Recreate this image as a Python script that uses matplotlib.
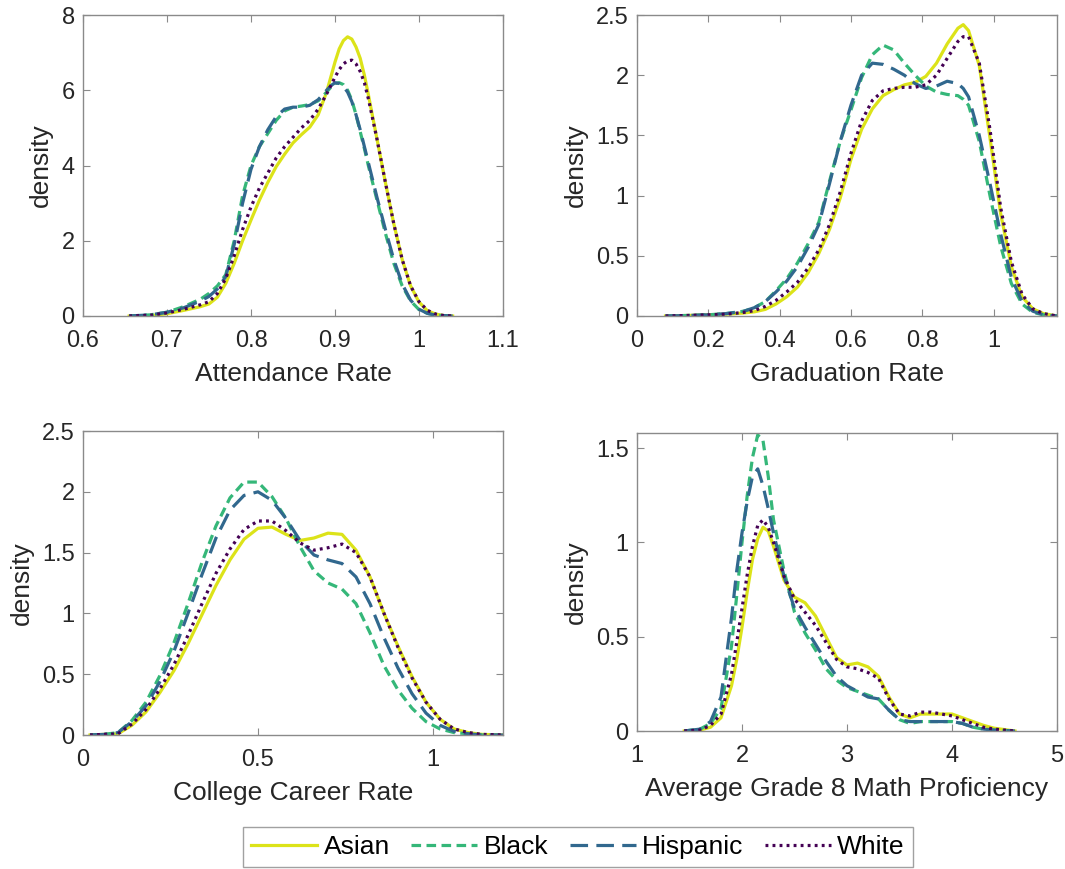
import matplotlib
matplotlib.use("Agg")
import matplotlib.pyplot as plt
from matplotlib.ticker import FuncFormatter

plt.rcParams['font.family'] = ['Liberation Sans', 'DejaVu Sans']

groups = ["Asian", "Black", "Hispanic", "White"]
colors = ["#DCE319", "#35B779", "#31688E", "#440154"]

# Attendance rate densities
att_x = [0.655, 0.68, 0.70, 0.72, 0.74, 0.75, 0.76, 0.77, 0.78, 0.79, 0.80, 0.81,
         0.82, 0.83, 0.84, 0.85, 0.86, 0.87, 0.88, 0.89, 0.895, 0.90, 0.905, 0.91,
         0.915, 0.92, 0.925, 0.93, 0.935, 0.94, 0.95, 0.96, 0.97, 0.98, 0.99,
         1.00, 1.01, 1.02, 1.03, 1.04]
att_asian = [0, 0.01, 0.06, 0.15, 0.25, 0.32, 0.5, 0.87, 1.4, 2.0, 2.55, 3.08,
             3.55, 3.97, 4.3, 4.6, 4.82, 5.02, 5.35, 5.95, 6.35, 6.75, 7.1, 7.32,
             7.42, 7.36, 7.15, 6.85, 6.4, 5.85, 4.7, 3.55, 2.45, 1.5, 0.8,
             0.37, 0.14, 0.05, 0.01, 0]
att_black = [0, 0.03, 0.1, 0.25, 0.45, 0.6, 0.8, 1.1, 2.0, 3.2, 4.0, 4.5,
             4.85, 5.2, 5.45, 5.55, 5.58, 5.62, 5.72, 5.95, 6.08, 6.18, 6.2, 6.15,
             6.0, 5.74, 5.35, 4.9, 4.45, 3.97, 3.08, 2.2, 1.4, 0.8, 0.4,
             0.17, 0.07, 0.02, 0.01, 0]
att_hispanic = [0, 0.03, 0.1, 0.22, 0.4, 0.52, 0.72, 1.05, 1.9, 3.0, 3.9, 4.5,
                4.95, 5.3, 5.5, 5.55, 5.55, 5.6, 5.75, 6.0, 6.12, 6.2, 6.18, 6.1,
                5.95, 5.7, 5.35, 4.95, 4.5, 4.05, 3.15, 2.3, 1.5, 0.85, 0.42,
                0.18, 0.07, 0.02, 0.01, 0]
att_white = [0, 0.02, 0.08, 0.18, 0.3, 0.38, 0.6, 1.0, 1.6, 2.3, 2.9, 3.4,
             3.8, 4.2, 4.5, 4.75, 5.0, 5.2, 5.5, 5.9, 6.12, 6.35, 6.55, 6.7,
             6.78, 6.8, 6.7, 6.5, 6.2, 5.75, 4.7, 3.55, 2.45, 1.5, 0.8,
             0.38, 0.15, 0.05, 0.01, 0]

# Graduation rate densities
grad_x = [0.08, 0.15, 0.2, 0.25, 0.3, 0.33, 0.36, 0.39, 0.42, 0.45, 0.48, 0.51,
          0.54, 0.57, 0.6, 0.63, 0.66, 0.69, 0.72, 0.75, 0.78, 0.81, 0.84, 0.87,
          0.9, 0.915, 0.93, 0.96, 0.99, 1.02, 1.05, 1.08, 1.11, 1.14, 1.178]
grad_asian = [0, 0.005, 0.01, 0.015, 0.025, 0.035, 0.055, 0.1, 0.16, 0.24, 0.36, 0.52,
              0.72, 0.98, 1.3, 1.55, 1.72, 1.83, 1.88, 1.92, 1.94, 1.99, 2.1, 2.26,
              2.39, 2.42, 2.37, 2.08, 1.48, 0.85, 0.41, 0.16, 0.06, 0.02, 0]
grad_black = [0, 0.005, 0.01, 0.02, 0.04, 0.07, 0.12, 0.21, 0.31, 0.44, 0.6, 0.78,
              1.12, 1.45, 1.71, 1.98, 2.17, 2.25, 2.21, 2.1, 2.0, 1.91, 1.86, 1.84,
              1.83, 1.8, 1.75, 1.45, 1.0, 0.58, 0.27, 0.1, 0.03, 0.01, 0]
grad_hispanic = [0, 0.005, 0.01, 0.02, 0.04, 0.07, 0.12, 0.2, 0.29, 0.41, 0.57, 0.76,
                 1.1, 1.45, 1.75, 2.0, 2.1, 2.09, 2.05, 2.0, 1.93, 1.89, 1.91, 1.95,
                 1.93, 1.89, 1.82, 1.5, 1.1, 0.68, 0.32, 0.12, 0.04, 0.01, 0]
grad_white = [0, 0.005, 0.01, 0.015, 0.03, 0.045, 0.08, 0.13, 0.2, 0.28, 0.4, 0.55,
              0.76, 1.03, 1.35, 1.62, 1.79, 1.87, 1.89, 1.9, 1.9, 1.92, 2.0, 2.14,
              2.28, 2.32, 2.32, 2.1, 1.55, 0.9, 0.45, 0.18, 0.06, 0.02, 0]

# College career rate densities
cc_x = [0.02, 0.06, 0.1, 0.14, 0.18, 0.22, 0.26, 0.3, 0.34, 0.38, 0.42, 0.46,
        0.5, 0.54, 0.58, 0.62, 0.66, 0.7, 0.74, 0.78, 0.82, 0.86, 0.9, 0.94,
        0.98, 1.02, 1.06, 1.1, 1.14, 1.2]
cc_asian = [0, 0.005, 0.01, 0.08, 0.19, 0.35, 0.53, 0.75, 0.99, 1.23, 1.44, 1.61,
            1.7, 1.71, 1.65, 1.6, 1.62, 1.66, 1.65, 1.52, 1.3, 1.0, 0.73, 0.48,
            0.27, 0.13, 0.05, 0.02, 0.005, 0]
cc_black = [0, 0.005, 0.02, 0.12, 0.27, 0.49, 0.76, 1.08, 1.42, 1.72, 1.95, 2.08,
            2.08, 1.96, 1.78, 1.55, 1.35, 1.25, 1.2, 1.08, 0.84, 0.57, 0.37, 0.22,
            0.11, 0.05, 0.02, 0.01, 0, 0]
cc_hispanic = [0, 0.005, 0.02, 0.11, 0.24, 0.44, 0.69, 1.0, 1.32, 1.62, 1.85, 1.97,
               2.0, 1.93, 1.78, 1.6, 1.48, 1.44, 1.41, 1.3, 1.08, 0.8, 0.55, 0.34,
               0.18, 0.08, 0.03, 0.01, 0, 0]
cc_white = [0, 0.005, 0.01, 0.09, 0.21, 0.38, 0.58, 0.82, 1.08, 1.33, 1.53, 1.69,
            1.76, 1.76, 1.68, 1.58, 1.52, 1.54, 1.57, 1.5, 1.3, 1.0, 0.72, 0.47,
            0.27, 0.13, 0.05, 0.02, 0.005, 0]

# Average grade 8 math proficiency densities
math_x = [1.45, 1.6, 1.7, 1.8, 1.9, 1.95, 2.0, 2.05, 2.1, 2.15, 2.2, 2.25,
          2.3, 2.4, 2.5, 2.6, 2.7, 2.8, 2.9, 3.0, 3.1, 3.2, 3.3, 3.4,
          3.5, 3.6, 3.7, 3.8, 3.9, 4.0, 4.1, 4.2, 4.3, 4.4, 4.6]
math_asian = [0, 0.005, 0.02, 0.07, 0.24, 0.38, 0.55, 0.74, 0.91, 1.02, 1.08, 1.06,
              0.98, 0.8, 0.71, 0.68, 0.61, 0.5, 0.39, 0.35, 0.36, 0.34, 0.29, 0.18,
              0.09, 0.07, 0.09, 0.09, 0.09, 0.09, 0.07, 0.05, 0.03, 0.015, 0]
math_black = [0, 0.01, 0.04, 0.12, 0.45, 0.72, 1.0, 1.25, 1.45, 1.57, 1.54, 1.35,
              1.12, 0.85, 0.63, 0.52, 0.43, 0.33, 0.27, 0.23, 0.21, 0.19, 0.17, 0.11,
              0.06, 0.04, 0.05, 0.05, 0.05, 0.05, 0.04, 0.02, 0.01, 0.005, 0]
math_hispanic = [0, 0.01, 0.05, 0.18, 0.6, 0.85, 1.05, 1.22, 1.35, 1.39, 1.3, 1.18,
                 1.05, 0.82, 0.65, 0.55, 0.46, 0.37, 0.29, 0.24, 0.21, 0.18, 0.17, 0.11,
                 0.06, 0.05, 0.05, 0.05, 0.05, 0.05, 0.04, 0.02, 0.01, 0.005, 0]
math_white = [0, 0.005, 0.03, 0.09, 0.3, 0.47, 0.65, 0.83, 0.98, 1.09, 1.12, 1.08,
              1.0, 0.82, 0.7, 0.63, 0.56, 0.47, 0.38, 0.34, 0.33, 0.31, 0.28, 0.17,
              0.09, 0.08, 0.1, 0.1, 0.09, 0.08, 0.06, 0.04, 0.02, 0.01, 0]

panels = [
    ("Attendance Rate", att_x, [att_asian, att_black, att_hispanic, att_white],
     (0.6, 1.1), [0.6, 0.7, 0.8, 0.9, 1.0, 1.1], (0, 8), [0, 2, 4, 6, 8]),
    ("Graduation Rate", grad_x, [grad_asian, grad_black, grad_hispanic, grad_white],
     (0, 1.178), [0, 0.2, 0.4, 0.6, 0.8, 1.0], (0, 2.5), [0, 0.5, 1, 1.5, 2, 2.5]),
    ("College Career Rate", cc_x, [cc_asian, cc_black, cc_hispanic, cc_white],
     (0, 1.2), [0, 0.5, 1.0], (0, 2.5), [0, 0.5, 1, 1.5, 2, 2.5]),
    ("Average Grade 8 Math Proficiency", math_x,
     [math_asian, math_black, math_hispanic, math_white],
     (1, 5), [1, 2, 3, 4, 5], (0, 1.58), [0, 0.5, 1, 1.5]),
]

W, H = 1065, 869
rects = [
    (83, 15, 503, 316),
    (637, 15, 1057, 316),
    (83, 431, 503, 735),
    (637, 433, 1057, 731),
]

lw = 2.3
styles = [
    dict(linestyle="-"),
    dict(linestyle=(0, (3.0, 1.7))),
    dict(linestyle=(0, (5.5, 2.6))),
    dict(linestyle=(0, (0.9, 1.3)), dash_capstyle="butt"),
]

fmt = FuncFormatter(lambda v, p: "%g" % round(v, 6))
spine_col = "#8a8a8a"
text_col = "#262626"

fig = plt.figure(figsize=(W / 100, H / 100), dpi=100)
handles = []
for (xlabel, xs, ys, xlim, xt, ylim, yt), (l, t, r, b) in zip(panels, rects):
    ax = fig.add_axes([l / W, 1 - b / H, (r - l) / W, (b - t) / H])
    handles = []
    for name, col, st, y in zip(groups, colors, styles, ys):
        h, = ax.plot(xs, y, color=col, lw=lw, label=name, **st)
        handles.append(h)
    ax.set_xlim(*xlim)
    ax.set_ylim(*ylim)
    ax.set_xticks(xt)
    ax.set_yticks(yt)
    ax.xaxis.set_major_formatter(fmt)
    ax.yaxis.set_major_formatter(fmt)
    ax.tick_params(direction="in", top=True, right=True, length=5, width=0.8,
                   color=spine_col, labelsize=17, labelcolor=text_col)
    ax.tick_params(axis="x", pad=10)
    ax.tick_params(axis="y", pad=6)
    for s in ax.spines.values():
        s.set_color(spine_col)
        s.set_linewidth(1.0)
    ax.set_xlabel(xlabel, fontsize=19, color=text_col, labelpad=7)
    ax.set_ylabel("density", fontsize=19, color=text_col, labelpad=6)

leg = fig.legend(handles, groups, loc="center", ncol=4,
                 bbox_to_anchor=(578 / W, 1 - 847 / H), fontsize=19,
                 frameon=True, fancybox=False, edgecolor=spine_col,
                 handlelength=2.5, handletextpad=0.25, columnspacing=0.8,
                 borderpad=0.3, borderaxespad=0)
leg.get_frame().set_linewidth(1.0)

fig.savefig("out.png", dpi=100)
